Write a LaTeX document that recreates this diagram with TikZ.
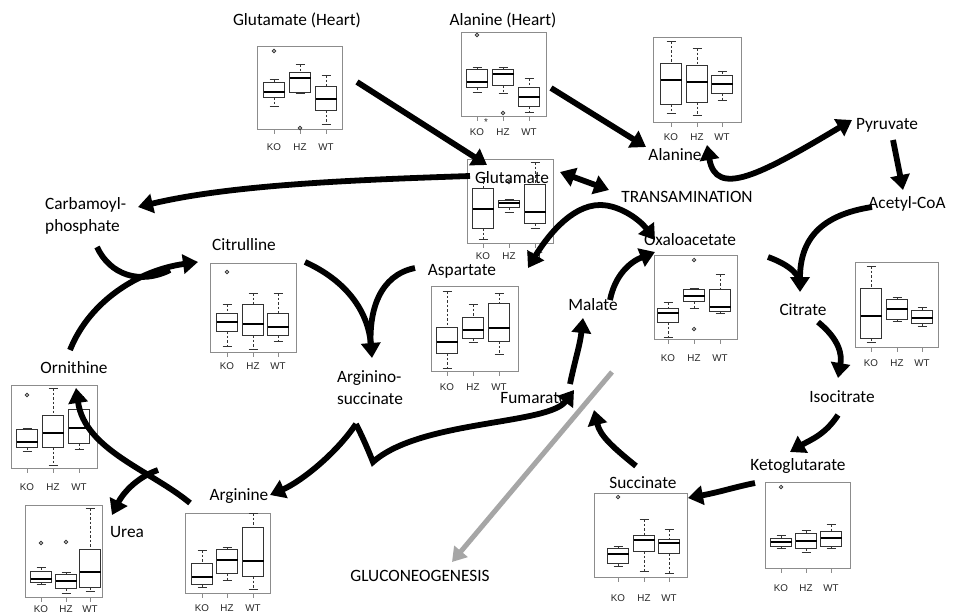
\documentclass[tikz,border=0pt]{standalone}
\usepackage{fontspec}
\setmainfont{Carlito}
\newfontfamily\axfont{Liberation Sans}
\usetikzlibrary{arrows.meta}
\tikzset{
 lbl/.style={font=\fontsize{17.3}{20}\selectfont, inner sep=0pt, align=center},
 lbll/.style={font=\fontsize{17.3}{22}\selectfont, inner sep=0pt, align=left},
 axl/.style={font=\axfont\fontsize{9.8}{11}\selectfont, inner sep=0pt, text=black!85},
 frm/.style={draw=black!45, line width=0.8pt},
 bpl/.style={draw=black!80, line width=0.8pt},
 bpw/.style={draw=black!80, line width=0.8pt, dash pattern=on 2.5pt off 2pt},
 bpm/.style={draw=black, line width=2.4pt},
 flow/.style={line width=5.8pt, -{Triangle[length=15pt,width=19pt]}},
 flown/.style={line width=5.8pt},
 flowd/.style={line width=5.8pt, {Triangle[length=15pt,width=19pt]}-{Triangle[length=15pt,width=19pt]}},
 gflow/.style={line width=5pt, draw=black!35, -{Triangle[length=14pt,width=17pt]}},
}
\newcommand\bxp[6]{%
 \draw[bpw] (#1,#2) -- (#1,#3) (#1,#5) -- (#1,#6);
 \draw[bpl] ({#1-4.5},#2) -- ({#1+4.5},#2) ({#1-4.5},#6) -- ({#1+4.5},#6);
 \draw[bpl,fill=white] ({#1-10.5},#3) rectangle ({#1+10.5},#5);
 \draw[bpm] ({#1-10.5},#4) -- ({#1+10.5},#4);
}
\newcommand\outl[2]{\draw[bpl] (#1,#2) circle[radius=1.7pt];}
\newcommand\pnl[9]{%
 \draw[frm] (#1,#2) rectangle (#3,#4);
 \draw[frm] (#5,#4) -- (#5,{#4+5}) (#6,#4) -- (#6,{#4+5}) (#7,#4) -- (#7,{#4+5});
 \node[axl] (#9ko) at (#5,#8) {KO};
 \node[axl] (#9hz) at (#6,#8) {HZ};
 \node[axl] (#9wt) at (#7,#8) {WT};
}
\begin{document}
\begin{tikzpicture}[x=1pt,y=-1pt]
\useasboundingbox (0,0) rectangle (953,614);
\fill[white] (0,0) rectangle (953,614);

% ---------- panels ----------
% Glutamate (Heart)
\pnl{257}{46}{342}{129}{274}{300}{326}{147}{pa}
\bxp{274}{79}{82}{92}{97}{106}\outl{274}{51}
\bxp{300}{64}{72}{78}{92}{93}\outl{300}{128}
\bxp{326}{75}{86}{99}{110}{124}
% Alanine (Heart)
\pnl{461}{32}{546}{116}{477}{503}{529}{132}{pb}
\bxp{477}{67}{69}{82}{87}{92}\outl{477}{35}
\bxp{503}{67}{69}{74}{85}{93}\outl{503}{113}
\bxp{529}{78}{87}{97}{106}{112}
\node[axl] (star) at (486,122) {*};
% Alanine
\pnl{653}{37}{741}{122}{671}{697}{722}{137}{pc}
\bxp{671}{41}{63}{80}{104}{113}
\bxp{697}{48}{65}{82}{102}{115}
\bxp{722}{71}{75}{84}{93}{100}
% Glutamate
\pnl{467}{159}{553}{243}{483}{509}{535}{256}{pd}
\bxp{483}{177}{188}{209}{228}{239}
\bxp{509}{199}{200}{203}{207}{212}\outl{509}{182}
\bxp{535}{162}{184}{212}{223}{228}
% Citrulline
\pnl{210}{263}{296}{352}{227}{253}{278}{366}{pe}
\bxp{227}{304}{313}{322}{331}{346}\outl{227}{272}
\bxp{253}{293}{304}{324}{335}{349}
\bxp{278}{293}{313}{327}{335}{341}
% Aspartate
\pnl{431}{286}{518}{371}{447}{473}{499}{387}{pf}
\bxp{447}{291}{327}{342}{353}{368}
\bxp{473}{304}{317}{330}{338}{342}
\bxp{499}{293}{303}{328}{341}{354}
% Oxaloacetate
\pnl{654}{255}{737}{339}{668}{694}{720}{358}{pg}
\bxp{668}{302}{308}{313}{322}{337}
\bxp{694}{288}{289}{296}{301}{308}\outl{694}{260}\outl{694}{329}
\bxp{720}{274}{289}{307}{311}{313}
% Citrate
\pnl{855}{262}{938}{347}{871}{897}{922}{363}{ph}
\bxp{871}{266}{288}{316}{338}{342}
\bxp{897}{297}{299}{309}{319}{321}
\bxp{922}{307}{310}{318}{323}{326}
% Ornithine
\pnl{11}{385}{97}{468}{27}{53}{79}{487}{pi}
\bxp{27}{428}{429}{442}{447}{451}\outl{27}{395}
\bxp{53}{388}{415}{433}{447}{465}
\bxp{79}{396}{409}{428}{443}{449}
% Urea
\pnl{25}{505}{102}{597}{41}{66}{90}{609}{pj}
\bxp{41}{567}{571}{579}{582}{584}\outl{41}{543}
\bxp{66}{572}{574}{581}{588}{593}\outl{66}{542}
\bxp{90}{508}{549}{572}{587}{591}
% Arginine
\pnl{185}{513}{270}{593}{202}{227}{253}{608}{pk}
\bxp{202}{550}{563}{577}{584}{587}
\bxp{227}{547}{549}{560}{573}{580}
\bxp{253}{513}{527}{561}{576}{589}
% Succinate
\pnl{594}{493}{687}{577}{618}{644}{669}{598}{pl}
\bxp{618}{546}{548}{554}{563}{566}\outl{618}{497}
\bxp{644}{519}{535}{540}{551}{571}
\bxp{669}{529}{539}{543}{553}{573}
% Ketoglutarate
\pnl{765}{482}{850}{568}{781}{806}{831}{588}{pm}
\bxp{781}{535}{538}{542}{546}{548}\outl{781}{487}
\bxp{806}{530}{533}{541}{548}{552}
\bxp{831}{524}{531}{538}{546}{548}

% ---------- labels ----------
\node[lbl] (gluh) at (297,20) {Glutamate (Heart)};
\node[lbl] (alah) at (503,20) {Alanine (Heart)};
\node[lbl] (glu) at (512,178) {Glutamate};
\node[lbl] (ala) at (675,155) {Alanine};
\node[lbl] (pyr) at (887,125) {Pyruvate};
\node[lbl] (acoa) at (907,204) {Acetyl-CoA};
\node[lbl] (trans) at (687,197) {TRANSAMINATION};
\node[lbll,anchor=west] (carb) at (45,216) {Carbamoyl-\\phosphate};
\node[lbl] (cit) at (244,245) {Citrulline};
\node[lbl] (oxa) at (690,240) {Oxaloacetate};
\node[lbl] (asp) at (462,271) {Aspartate};
\node[lbl] (mal) at (593,305) {Malate};
\node[lbl] (ctr) at (803,310) {Citrate};
\node[lbl] (orn) at (74,368) {Ornithine};
\node[lbll] (args) at (370,388) {Arginino-\\succinate};
\node[lbl] (fum) at (534,398) {Fumarate};
\node[lbl] (iso) at (842,397) {Isocitrate};
\node[lbl] (akg) at (798,466) {Ketoglutarate};
\node[lbl] (suc) at (643,483) {Succinate};
\node[lbl] (urea) at (127,532) {Urea};
\node[lbl] (arg) at (239,496) {Arginine};
\node[lbl] (gng) at (420,576) {GLUCONEOGENESIS};

% ---------- connectors ----------
\coordinate (a1s) at (357,82); \coordinate (a1e) at (487,165);
\draw[flow] (a1s) -- (a1e);
\coordinate (a2s) at (551,88); \coordinate (a2e) at (646,147);
\draw[flow] (a2s) -- (a2e);
\coordinate (a3s) at (560,172); \coordinate (a3e) at (609,190);
\draw[flowd] (a3s) -- (a3e);
\coordinate (a4s) at (707,145); \coordinate (a4e) at (852,120);
\draw[flowd] (a4s) .. controls (716,198) and (760,175) .. (a4e);
\coordinate (a5s) at (893,140); \coordinate (a5e) at (903,190);
\draw[flow] (a5s) -- (a5e);
\coordinate (a6s) at (872,207); \coordinate (cite) at (800,292);
\draw[flow] (a6s) .. controls (820,215) and (800,240) .. (cite);
\coordinate (a7s) at (768,257);
\draw[flown] (a7s) .. controls (790,265) and (800,275) .. (801,285);
\coordinate (a8s) at (818,322); \coordinate (a8e) at (838,378);
\draw[flow] (a8s) .. controls (840,340) and (842,355) .. (a8e);
\coordinate (a9s) at (838,415); \coordinate (a9e) at (790,452);
\draw[flow] (a9s) .. controls (825,435) and (810,440) .. (a9e);
\coordinate (a10s) at (755,483); \coordinate (a10e) at (688,498);
\draw[flow] (a10s) .. controls (735,487) and (720,492) .. (a10e);
\coordinate (a11s) at (636,466); \coordinate (a11e) at (594,410);
\draw[flow] (a11s) .. controls (610,445) and (600,435) .. (a11e);
\coordinate (a12s) at (570,384); \coordinate (a12e) at (583,318);
\draw[flow] (a12s) .. controls (575,360) and (580,345) .. (a12e);
\coordinate (a13s) at (610,300); \coordinate (a13e) at (655,252);
\draw[flow] (a13s) .. controls (615,275) and (630,262) .. (a13e);
\coordinate (a14m) at (600,205); \coordinate (a14e) at (655,240); \coordinate (a14f) at (528,268);
\draw[flow] (a14m) .. controls (620,205) and (640,220) .. (a14e);
\draw[flow] (a14m) .. controls (570,205) and (545,240) .. (a14f);
\coordinate (a15s) at (470,176); \coordinate (a15e) at (138,207);
\draw[flow] (a15s) .. controls (350,180) and (230,185) .. (a15e);
\coordinate (citin) at (198,262);
\coordinate (a16s) at (97,247);
\draw[flown] (a16s) .. controls (110,275) and (140,285) .. (170,270);
\coordinate (a21s) at (70,350);
\draw[flow] (a21s) .. controls (90,300) and (140,270) .. (citin);
\coordinate (a17s) at (305,262); \coordinate (asin) at (372,358);
\draw[flow] (a17s) .. controls (345,280) and (368,310) .. (asin);
\coordinate (a18s) at (415,268);
\draw[flown] (a18s) .. controls (380,275) and (368,310) .. (371,350);
\coordinate (a19s) at (356,424); \coordinate (a19v) at (373,462); \coordinate (a19e) at (574,390);
\draw[flow] (a19s) .. controls (364,440) and (369,452) .. (a19v) .. controls (420,420) and (548,425) .. (a19e);
\coordinate (a19a) at (270,495);
\draw[flow] (a19s) .. controls (335,455) and (300,482) .. (a19a);
\coordinate (a20s) at (190,503); \coordinate (a20e) at (76,388); \coordinate (a20u) at (112,515);
\draw[flow] (a20s) .. controls (150,470) and (85,450) .. (a20e);
\draw[flow] (158,470) .. controls (135,478) and (122,495) .. (a20u);
\coordinate (gs) at (612,372); \coordinate (ge) at (452,562);
\draw[gflow] (gs) -- (ge);
\end{tikzpicture}
\end{document}
